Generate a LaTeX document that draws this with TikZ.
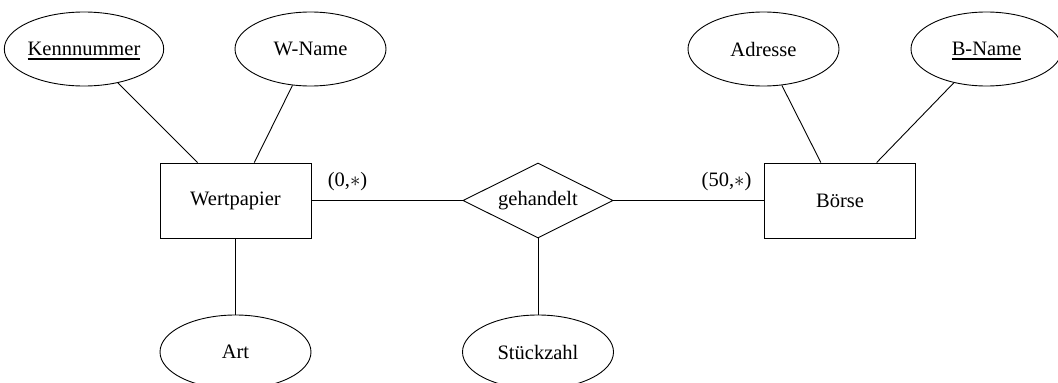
\documentclass[tikz,border=0pt]{standalone}
\usepackage{fontspec}
\setmainfont{Liberation Serif}
\usetikzlibrary{shapes.geometric}
\newcommand\keyul[1]{\setbox0\hbox{#1}\rlap{\raisebox{-4.5pt}[0pt][0pt]{\rule{\wd0}{1.8pt}}}\box0}
\begin{document}
\begin{tikzpicture}[x=1pt,y=-1pt,
  every node/.style={font=\fontsize{20.5}{24}\selectfont},
  attr/.style={draw,ellipse,minimum width=151pt,minimum height=74pt,inner sep=0pt,line width=0.9pt},
  ent/.style={draw,rectangle,minimum width=151pt,minimum height=75pt,inner sep=0pt,line width=0.9pt},
  rel/.style={draw,diamond,aspect=2,minimum width=150pt,minimum height=75pt,inner sep=0pt,line width=0.9pt},
  conn/.style={line width=0.9pt},
  card/.style={inner sep=0pt}]
\clip (0,0) rectangle (1058,383);
\node[attr] (kenn) at (84,49) {\keyul{Kennnummer}};
\node[attr] (wname) at (310.5,49) {W-Name};
\node[attr] (adr) at (763.5,49) {Adresse};
\node[attr] (bname) at (986.5,49) {\keyul{B-Name}};
\node[ent] (wp) at (235.5,200.5) {Wertpapier};
\node[ent] (boe) at (840,200.5) {Börse};
\node[rel] (geh) at (538,200.5) {gehandelt};
\node[attr] (art) at (235.5,352) {Art};
\node[attr] (stk) at (538,352) {Stückzahl};
\draw[conn] (kenn) -- (wp);
\draw[conn] (wname) -- (wp);
\draw[conn] (adr) -- (boe);
\draw[conn] (bname) -- (boe);
\draw[conn] (wp) -- (geh);
\draw[conn] (geh) -- (boe);
\draw[conn] (wp) -- (art);
\draw[conn] (geh) -- (stk);
\node[card] (c1) at (347.5,182) {(0,$\ast$)};
\node[card] (c2) at (726.5,182) {(50,$\ast$)};
\end{tikzpicture}
\end{document}
